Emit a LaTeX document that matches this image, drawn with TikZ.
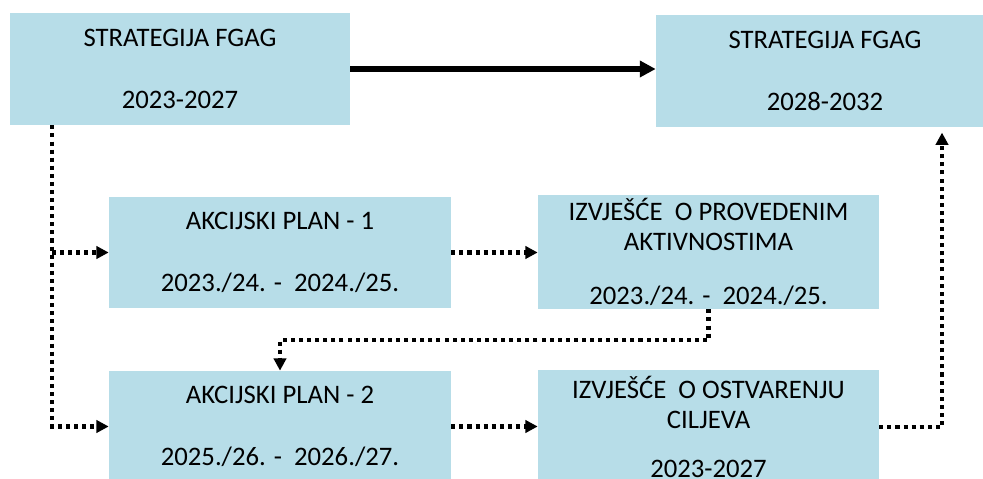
\documentclass[tikz,border=0pt]{standalone}
\usepackage{fontspec}
\setmainfont{Carlito}
\usepackage{xcolor}
\usepackage{tikz}
\usetikzlibrary{positioning, arrows.meta}
\definecolor{boxblue}{HTML}{B7DDE8}
\tikzset{
  planbox/.style={fill=boxblue, inner sep=0pt, align=center,
    font=\fontsize{15.2}{17}\selectfont},
  dotline/.style={line width=2.3pt, dash pattern=on 2.3pt off 2.3pt,
    -{Triangle[length=7pt, width=7pt]}},
  mainline/.style={line width=3.4pt, -{Triangle[length=9pt, width=9pt]}}
}

\begin{document}
\begin{tikzpicture}[x=0.02cm, y=-0.02cm]
  \clip (0,0) rectangle (983,479);
  % strategies
  \node[planbox, minimum width=6.8cm, minimum height=2.24cm] (strat1) at (180,69)
    {STRATEGIJA FGAG\\[18pt]2023-2027};
  \node[planbox, minimum width=6.76cm, minimum height=2.24cm] (strat2) at (825,71)
    {STRATEGIJA FGAG\\[18pt]2028-2032};
  \draw[mainline] (strat1.east) -- (strat1.east -| strat2.west);

  % action plans and reports
  \node[planbox, minimum width=6.84cm, minimum height=2.22cm] (plan1) at (280,252.5)
    {AKCIJSKI PLAN - 1\\[18pt]2023./24. -\ \ 2024./25.};
  \node[planbox, minimum width=6.82cm, minimum height=2.28cm] (report1) at (708.5,252)
    {IZVJEŠĆE\ \ O PROVEDENIM\\AKTIVNOSTIMA\\[14pt]2023./24. -\ \ 2024./25.};
  \node[planbox, minimum width=6.84cm, minimum height=2.22cm] (plan2) at (280,426.5)
    {AKCIJSKI PLAN - 2\\[18pt]2025./26. -\ \ 2026./27.};
  \node[planbox, minimum width=6.82cm, minimum height=2.28cm] (report2) at (708.5,427)
    {IZVJEŠĆE\ \ O OSTVARENJU\\CILJEVA\\[11pt]2023-2027};

  % dotted flow
  \coordinate (trunk) at (52,0);
  \coordinate (rise) at (942,0);
  \draw[dotline] (trunk |- strat1.south) |- (plan2.west);
  \draw[dotline] (trunk |- plan1.west) -- (plan1.west);
  \draw[dotline] (plan1.east) -- (plan1.east -| report1.west);
  \draw[dotline] (report1.south) -- ++(0,31) -| (plan2.north);
  \draw[dotline] (plan2.east) -- (plan2.east -| report2.west);
  \draw[dotline, shorten >=3pt] (report2.east) -| (rise |- strat2.south);
\end{tikzpicture}
\end{document}
